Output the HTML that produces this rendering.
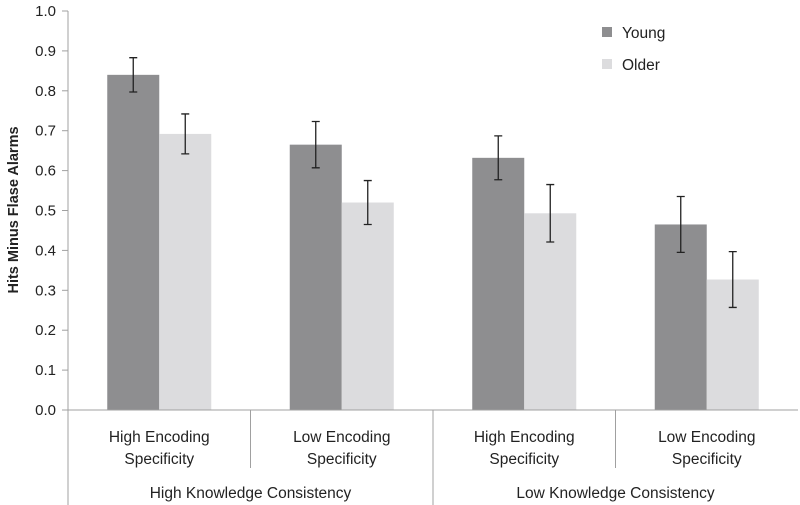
<!DOCTYPE html>
<html><head><meta charset="utf-8"><style>
body{margin:0;background:#fff;}
svg{display:block;font-family:"Liberation Sans",Arial,sans-serif;}
</style></head><body>
<svg id="chart" width="800" height="505" viewBox="0 0 800 505">
<g id="grid"></g><g id="bars"></g><g id="axes"></g>
<text transform="translate(18,210) rotate(-90)" text-anchor="middle" font-size="14.5" font-weight="bold" fill="#222">Hits Minus Flase Alarms</text>
<g>
<rect x="602" y="27" width="10" height="10" fill="#8e8e90"/>
<text x="622" y="38" font-size="15.5" fill="#222">Young</text>
<rect x="602" y="59" width="10" height="10" fill="#dcdcde"/>
<text x="622" y="70" font-size="15.5" fill="#222">Older</text>
</g>
</svg>
<script>
const categories=[["High Encoding","Specificity"],["Low Encoding","Specificity"],["High Encoding","Specificity"],["Low Encoding","Specificity"]];
const groups=["High Knowledge Consistency","Low Knowledge Consistency"];
const youngValues=[0.84,0.665,0.632,0.465];
const youngErrors=[0.043,0.058,0.055,0.07];
const olderValues=[0.692,0.52,0.493,0.327];
const olderErrors=[0.05,0.055,0.072,0.07];
const yTicks=[0,0.1,0.2,0.3,0.4,0.5,0.6,0.7,0.8,0.9,1.0];
const NS="http://www.w3.org/2000/svg";
const x0=68,x1=798,y0=410,y1=11;
const cw=(x1-x0)/categories.length;
const y=v=>y0-(v)*(y0-y1);
function mk(tag,attrs,parent,text){const e=document.createElementNS(NS,tag);for(const k in attrs)e.setAttribute(k,attrs[k]);if(text!=null)e.textContent=text;parent.appendChild(e);return e;}
const axes=document.getElementById('axes'),bars=document.getElementById('bars');
yTicks.forEach(t=>{
 const l=mk('line',{x1:62,x2:68,y1:y(t),y2:y(t),stroke:'#a0a0a0'},axes);
 
 
 const tx=mk('text',{x:56,y:y(t)+5,'text-anchor':'end','font-size':15,fill:'#222'},axes,t.toFixed(1));
 
 
});
let ya=mk('line',{x1:68,x2:68,y1:y1,y2:505,stroke:'#a0a0a0'},axes);


let xa=mk('line',{x1:68,x2:x1,y1:y0,y2:y0,stroke:'#a0a0a0'},axes);


for(let i=1;i<categories.length;i++){
 const gx=x0+cw*i;const full=(i===categories.length/2);
 const d=mk('line',{x1:gx,x2:gx,y1:y0,y2:full?505:468,stroke:'#a0a0a0'},axes);
 
 
}
categories.forEach((c,i)=>{
 const cx=x0+cw*(i+0.5);
 c.forEach((ln,j)=>{const t=mk('text',{x:cx,y:442+j*22,'text-anchor':'middle','font-size':15.5,fill:'#222'},axes,ln);
 
 });
 [[youngValues,youngErrors,'#8e8e90',-52,'young'],[olderValues,olderErrors,'#dcdcde',0,'older']].forEach(([vals,errs,col,off,nm])=>{
  const bx=cx+off;
  const r=mk('rect',{x:bx,y:y(vals[i]),width:52,height:y0-y(vals[i]),fill:col},bars);
  
  
  const ex=bx+26,hi=y(vals[i]+errs[i]),lo=y(vals[i]-errs[i]);
  const eb=mk('path',{d:`M${ex},${hi}V${lo}M${ex-4},${hi}H${ex+4}M${ex-4},${lo}H${ex+4}`,stroke:'#222','stroke-width':1.3,fill:'none'},bars);
  
  
 });
});
groups.forEach((g,i)=>{
 const t=mk('text',{x:x0+cw*(2*i+1),y:498,'text-anchor':'middle','font-size':15.5,fill:'#222'},axes,g);
 
 
});
</script>
</body></html>
